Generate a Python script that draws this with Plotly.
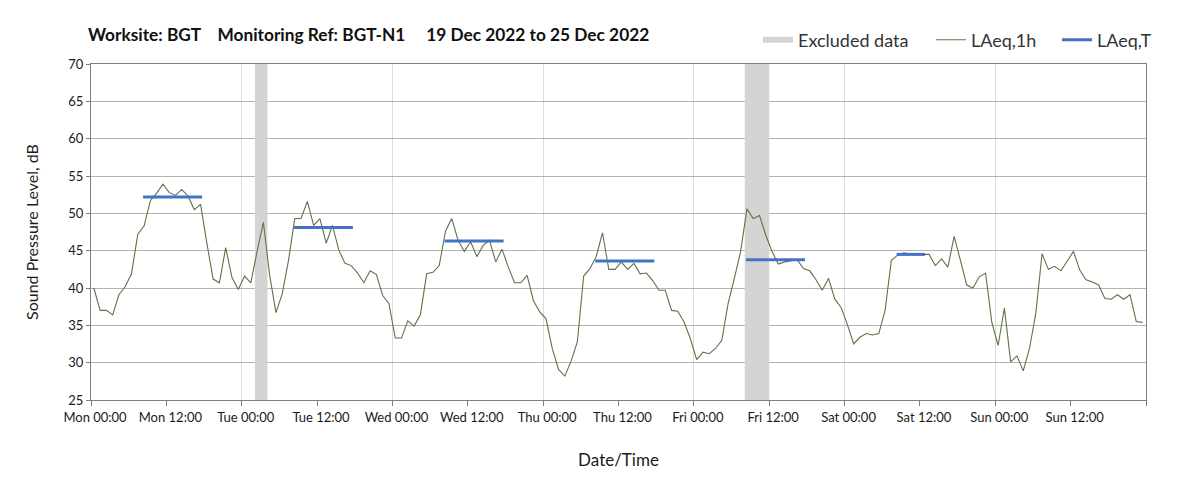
import plotly.graph_objects as go

# ---- data ----
days = ["Mon", "Tue", "Wed", "Thu", "Fri", "Sat", "Sun"]

# hourly LAeq,1h from Mon 00:00 (hour index 0..167)
laeq_1h = [
    40.0, 37.0, 37.0, 36.4, 39.1, 40.2, 41.9, 47.2, 48.3, 51.7, 52.7, 53.9,
    52.8, 52.4, 53.2, 52.3, 50.5, 51.2, 46.0, 41.2, 40.7, 45.4, 41.4, 39.8,
    41.6, 40.7, 44.9, 48.8, 41.7, 36.7, 39.2, 43.7, 49.3, 49.3, 51.6, 48.4,
    49.3, 46.0, 48.4, 45.1, 43.3, 43.0, 42.0, 40.7, 42.3, 41.8, 39.0, 37.9,
    33.3, 33.3, 35.6, 34.9, 36.4, 41.9, 42.1, 43.0, 47.6, 49.3, 46.4, 44.9,
    46.2, 44.2, 45.7, 46.4, 43.5, 45.2, 42.8, 40.7, 40.7, 41.7, 38.3, 36.8,
    35.9, 31.9, 29.1, 28.2, 30.2, 32.8, 41.6, 42.6, 44.2, 47.4, 42.5, 42.5,
    43.5, 42.5, 43.3, 41.9, 42.0, 41.0, 39.7, 39.7, 37.0, 36.9, 35.4, 33.2,
    30.4, 31.4, 31.2, 31.9, 33.0, 37.9, 41.3, 44.9, 50.6, 49.3, 49.7, 47.1,
    44.9, 43.2, 43.5, 43.7, 43.8, 42.6, 42.3, 41.1, 39.7, 41.3, 38.5, 37.4,
    35.1, 32.5, 33.4, 33.9, 33.7, 33.9, 37.0, 43.7, 44.4, 44.7, 44.5, 44.5,
    44.5, 44.5, 43.0, 43.9, 42.8, 46.9, 43.7, 40.4, 40.0, 41.5, 42.0, 35.4,
    32.3, 37.3, 30.1, 30.9, 28.9, 31.9, 36.6, 44.6, 42.5, 42.9, 42.3, 43.6,
    44.9, 42.4, 41.1, 40.8, 40.4, 38.6, 38.5, 39.1, 38.5, 39.1, 35.5, 35.4,
]

# LAeq,T period values (start hour, end hour, level)
period_start = [8.3, 32.3, 56.3, 80.3, 104.3, 128.3]
period_end = [17.7, 41.7, 65.7, 89.7, 113.7, 132.8]
period_level = [52.2, 48.1, 46.3, 43.6, 43.8, 44.5]

# excluded data windows (hours from Mon 00:00)
excl_start = [26.1, 104.1]
excl_end = [28.1, 108.0]

y_min, y_max = 25, 70
hour_offset = 0.45

# ---- geometry (pixels, page coords; page body has an 8px margin) ----
OFF = 8
W, H = 1203 - OFF, 495 - OFF
ML, MR, MT, MB = 91 - OFF, 57, 64 - OFF, 95
PW, PH = W - ML - MR, H - MT - MB


def px_x(p):
    return (p - OFF - ML) / PW


def px_y(p):
    return 1 - (p - OFF - MT) / PH


# ---- build ----
hours = [k + hour_offset for k in range(len(laeq_1h))]

ex_x, ex_y = [], []
for s, e in zip(excl_start, excl_end):
    ex_x += [s, s, e, e, s, None]
    ex_y += [y_min, y_max, y_max, y_min, y_min, None]

pt_x, pt_y = [], []
for s, e, v in zip(period_start, period_end, period_level):
    pt_x += [s, e, None]
    pt_y += [v, v, None]

tickvals, ticktext = [], []
for i, d in enumerate(days):
    tickvals += [24 * i, 24 * i + 12]
    ticktext += [f"{d} 00:00", f"{d} 12:00"]
tickvals.append(24 * len(days))
ticktext.append("")

FONT = "Lato, 'Open Sans', sans-serif"
LEG_FONT = dict(family=FONT, size=18, color="#333333")

fig = go.Figure()
fig.add_trace(go.Scatter(
    x=ex_x, y=ex_y, mode="none", fill="toself", fillcolor="#d4d4d4",
    name="Excluded data", hoverinfo="skip", legend="legend",
))
fig.add_trace(go.Scatter(
    x=hours, y=laeq_1h, mode="lines", name="LAeq,1h",
    line=dict(color="#5f7345", width=1.1), legend="legend2",
))
fig.add_trace(go.Scatter(
    x=pt_x, y=pt_y, mode="lines", name="LAeq,T",
    line=dict(color="#4472c4", width=3), legend="legend3",
))


def leg(text_start_px):
    return dict(
        orientation="h", xanchor="left", x=px_x(text_start_px - 40),
        yanchor="middle", y=px_y(40), font=LEG_FONT, bgcolor="rgba(0,0,0,0)",
    )


fig.update_layout(
    width=W, height=H,
    margin=dict(l=ML, r=MR, t=MT, b=MB, autoexpand=False),
    paper_bgcolor="white", plot_bgcolor="white",
    font=dict(family=FONT, color="#1a1a1a"),
    title=dict(
        text="<b>Worksite: BGT    Monitoring Ref: BGT-N1     19 Dec 2022 to 25 Dec 2022</b>",
        xref="container", x=(88 - OFF) / W, xanchor="left",
        yref="container", y=1 - (35 - OFF) / H, yanchor="middle",
        font=dict(family=FONT, size=17.3, color="#111111"),
    ),
    legend=leg(798),
    legend2=leg(971),
    legend3=leg(1097),
    showlegend=True,
    xaxis=dict(
        range=[0, 24 * len(days)], tickmode="array", tickvals=tickvals, ticktext=ticktext,
        ticks="outside", ticklen=5, tickcolor="#7f7f7f",
        showline=True, linecolor="#7f7f7f", linewidth=1, mirror=True,
        showgrid=False, zeroline=False, automargin=False,
        minor=dict(tickvals=[24 * i for i in range(1, len(days))], showgrid=True,
                   gridcolor="#dcdcdc", gridwidth=1, ticks=""),
        tickfont=dict(family=FONT, size=13, color="#1a1a1a"),
        ticklabelshift=4,
        title=dict(text="Date/Time", font=dict(family=FONT, size=17, color="#1a1a1a"), standoff=30),
    ),
    yaxis=dict(
        range=[y_min, y_max], dtick=5, tick0=y_min,
        ticks="outside", ticklen=4, tickcolor="#7f7f7f",
        showline=True, linecolor="#7f7f7f", linewidth=1, mirror=True,
        showgrid=True, gridcolor="#b4b4b4", gridwidth=1, zeroline=False, automargin=False,
        tickfont=dict(family=FONT, size=13, color="#1a1a1a"),
        title=dict(text="Sound Pressure Level, dB", font=dict(family=FONT, size=16, color="#1a1a1a"), standoff=25),
    ),
)

fig.write_html("out.html")
